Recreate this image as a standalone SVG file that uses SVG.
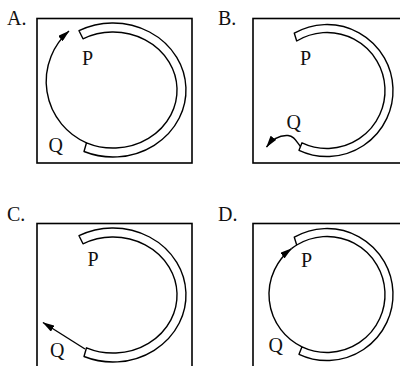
<svg xmlns="http://www.w3.org/2000/svg" width="400" height="366" viewBox="0 0 400 366">
<style>
.box{fill:none;stroke:#000;stroke-width:1.6}
.band{fill:none;stroke:#000;stroke-width:1.4;stroke-linejoin:round}
.line{fill:none;stroke:#000;stroke-width:1.4}
.lbl{font-family:"Liberation Serif","Times New Roman",serif;font-size:20px;fill:#111}
</style>
<defs>
<marker id="ah" markerUnits="userSpaceOnUse" viewBox="0 0 12 7" markerWidth="12" markerHeight="7" refX="11.5" refY="3.5" orient="auto"><path d="M0,0 L12,3.5 L0,7 Z" fill="#000"/></marker>
</defs>
<rect width="400" height="366" fill="#fff"/>
<g id="panel-a">
<rect class="box" x="37" y="18.5" width="155" height="144.5"/>
<path class="band" d="M79,30.7 A73,67 0 1 1 84,151.5 L86.5,142.8 A64,58 0 1 0 83,38.8 Z"/>
<text class="lbl" x="7" y="24.5">A.</text>
<text class="lbl" x="82" y="65">P</text>
<text class="lbl" x="48.5" y="152">Q</text>
</g>
<g id="panel-b">
<rect class="box" x="253" y="18.5" width="155" height="144.5"/>
<path class="band" d="M294.3,33.2 A66,66 0 1 1 299,150.3 L302,142.8 A58,58 0 1 0 296.7,41 Z"/>
<text class="lbl" x="218" y="24.5">B.</text>
<text class="lbl" x="300" y="65">P</text>
<text class="lbl" x="286.5" y="128.5">Q</text>
</g>
<g id="panel-c">
<rect class="box" x="37" y="223.5" width="155" height="160"/>
<path class="band" d="M79,235.7 A73,67 0 1 1 84,356.5 L86.5,347.8 A64,58 0 1 0 83,243.8 Z"/>
<text class="lbl" x="7" y="221">C.</text>
<text class="lbl" x="87.5" y="266">P</text>
<text class="lbl" x="50" y="357">Q</text>
</g>
<g id="panel-d">
<rect class="box" x="253" y="223.5" width="155" height="160"/>
<path class="band" d="M294.3,237.2 A66,66 0 1 1 299,354.3 L302,346.8 A58,58 0 1 0 296.7,245 Z"/>
<text class="lbl" x="218" y="221">D.</text>
<text class="lbl" x="301" y="267">P</text>
<text class="lbl" x="268.5" y="352">Q</text>
</g>
<g id="connectors">
<path class="line" d="M86.5,142.8 A67,67 0 0 1 69,31" marker-end="url(#ah)"/>
<path class="line" d="M300.5,146.5 C296,141 294,136 288,135.5 C281,135 274,137 266.5,147" marker-end="url(#ah)"/>
<path class="line" d="M85,349 L43,322.5" marker-end="url(#ah)"/>
<path class="line" d="M302,346.8 A58,58 0 0 1 291.5,248.6" marker-end="url(#ah)"/>
<path class="line" d="M291.5,248.6 A58,58 0 0 1 296.7,245"/>
</g>
</svg>
